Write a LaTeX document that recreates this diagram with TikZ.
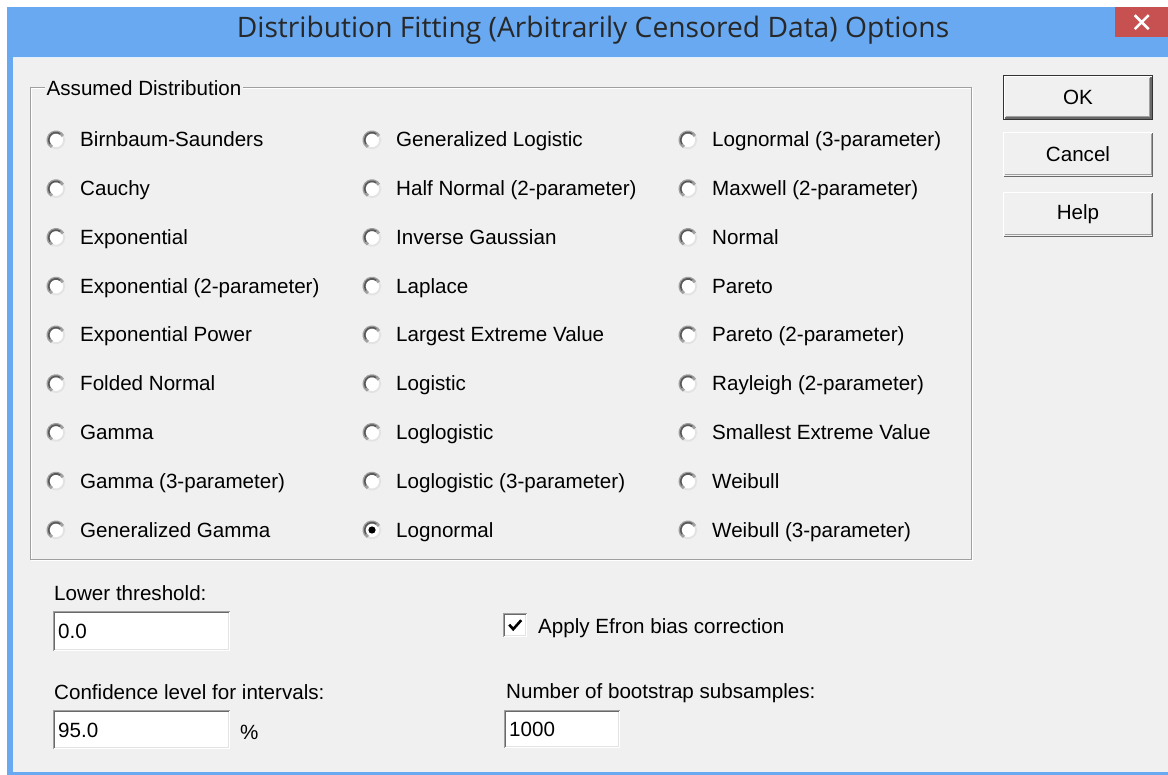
\documentclass[tikz,border=0pt]{standalone}
\usepackage{fontspec}
\setmainfont{Liberation Sans}
\newfontfamily\titlefont{Open Sans}
\definecolor{titleblue}{RGB}{104,169,241}
\definecolor{bodygray}{RGB}{240,240,240}
\definecolor{closered}{RGB}{199,80,80}
\definecolor{edgedark}{RGB}{105,105,105}
\definecolor{edgegray}{RGB}{160,160,160}
\definecolor{edgelight}{RGB}{227,227,227}
\definecolor{titletext}{RGB}{40,40,40}
\newcommand{\radiobtn}[5]{%
  \node[radiocirc] (#1) at (#2,#3) {};
  \draw[edgelight,line width=2pt] ([shift={(240:8.3pt)}]#1.center) arc[start angle=240,end angle=390,radius=8.3pt];
  \draw[edgegray,line width=3pt] ([shift={(30:8pt)}]#1.center) arc[start angle=30,end angle=240,radius=8pt];
  \draw[black!65,line width=1.6pt] ([shift={(55:7.4pt)}]#1.center) arc[start angle=55,end angle=215,radius=7.4pt];
  \ifnum#5=1 \fill[black] (#1.center) circle[radius=3.6pt];\fi
  \node[lbl] (#1t) at (#2+24,#3+7) {#4};
}
\begin{document}
\begin{tikzpicture}[x=1pt,y=-1pt,
  lbl/.style={anchor=base west,inner sep=0pt,font=\fontsize{20.6}{24}\selectfont,text=black},
  radiocirc/.style={circle,fill=white,minimum size=18pt,inner sep=0pt},
  btn/.style={rectangle,fill=bodygray,inner sep=0pt,font=\fontsize{20.6}{24}\selectfont,text=black},
  field/.style={rectangle,fill=white,inner sep=0pt,anchor=north west},
  fieldtext/.style={anchor=base west,inner sep=0pt,font=\fontsize{20.6}{24}\selectfont,text=black}]
\useasboundingbox (0,0) rectangle (1168,775);
\fill[white] (0,0) rectangle (1168,775);
% window
\fill[titleblue] (7,7) rectangle (1168,775);
\fill[bodygray] (13,57) rectangle (1168,772);
\draw[white!80!titleblue,line width=0.8pt] (13,57.4) -- (1168,57.4);
\node[font=\titlefont\fontsize{28.2}{32}\selectfont,text=titletext,inner sep=0pt,anchor=base] (title) at (593,38) {Distribution Fitting (Arbitrarily Censored Data) Options};
\node[rectangle,fill=closered,minimum width=53pt,minimum height=30pt,inner sep=0pt,anchor=north west] (close) at (1115,7) {};
\draw[white,line width=2.6pt] ([shift={(-7pt,-7pt)}]close.center) -- ([shift={(7pt,7pt)}]close.center)
  ([shift={(-7pt,7pt)}]close.center) -- ([shift={(7pt,-7pt)}]close.center);
% group box
\draw[white,line width=1pt] (31,89) rectangle (972,560);
\draw[edgegray,line width=1pt] (30,88) rectangle (971,559);
\node[fill=bodygray,inner sep=1.5pt,anchor=base west,font=\fontsize{20.6}{24}\selectfont] (grp) at (45,96) {Assumed Distribution};
% radio buttons column 1
\radiobtn{a1}{56}{140}{Birnbaum-Saunders}{0}
\radiobtn{a2}{56}{188.75}{Cauchy}{0}
\radiobtn{a3}{56}{237.5}{Exponential}{0}
\radiobtn{a4}{56}{286.25}{Exponential (2-parameter)}{0}
\radiobtn{a5}{56}{335}{Exponential Power}{0}
\radiobtn{a6}{56}{383.75}{Folded Normal}{0}
\radiobtn{a7}{56}{432.5}{Gamma}{0}
\radiobtn{a8}{56}{481.25}{Gamma (3-parameter)}{0}
\radiobtn{a9}{56}{530}{Generalized Gamma}{0}
% column 2
\radiobtn{b1}{372}{140}{Generalized Logistic}{0}
\radiobtn{b2}{372}{188.75}{Half Normal (2-parameter)}{0}
\radiobtn{b3}{372}{237.5}{Inverse Gaussian}{0}
\radiobtn{b4}{372}{286.25}{Laplace}{0}
\radiobtn{b5}{372}{335}{Largest Extreme Value}{0}
\radiobtn{b6}{372}{383.75}{Logistic}{0}
\radiobtn{b7}{372}{432.5}{Loglogistic}{0}
\radiobtn{b8}{372}{481.25}{Loglogistic (3-parameter)}{0}
\radiobtn{b9}{372}{530}{Lognormal}{1}
% column 3
\radiobtn{c1}{688}{140}{Lognormal (3-parameter)}{0}
\radiobtn{c2}{688}{188.75}{Maxwell (2-parameter)}{0}
\radiobtn{c3}{688}{237.5}{Normal}{0}
\radiobtn{c4}{688}{286.25}{Pareto}{0}
\radiobtn{c5}{688}{335}{Pareto (2-parameter)}{0}
\radiobtn{c6}{688}{383.75}{Rayleigh (2-parameter)}{0}
\radiobtn{c7}{688}{432.5}{Smallest Extreme Value}{0}
\radiobtn{c8}{688}{481.25}{Weibull}{0}
\radiobtn{c9}{688}{530}{Weibull (3-parameter)}{0}
% buttons
\node[btn,minimum width=150pt,minimum height=45pt] (ok) at (1078,97.5) {OK};
\node[btn,minimum width=150pt,minimum height=45pt] (cancel) at (1078,154.5) {Cancel};
\node[btn,minimum width=150pt,minimum height=45pt] (help) at (1078,214.5) {Help};
\draw[black!80,line width=1pt] ([shift={(0.5pt,0.5pt)}]ok.south west) rectangle ([shift={(-0.5pt,-0.5pt)}]ok.north east);
\draw[white,line width=1pt] ([shift={(1.5pt,1.5pt)}]ok.south west) |- ([shift={(-1.5pt,-1.5pt)}]ok.north east);
\draw[edgedark,line width=2pt] ([shift={(2pt,2pt)}]ok.south west) -| ([shift={(-2pt,-2pt)}]ok.north east);
\draw[edgegray,line width=1pt] ([shift={(3.5pt,3.5pt)}]ok.south west) -| ([shift={(-3.5pt,-3.5pt)}]ok.north east);
\foreach \b in {cancel,help}{
  \draw[white,line width=1pt] ([shift={(0.5pt,0.5pt)}]\b.south west) |- ([shift={(-0.5pt,-0.5pt)}]\b.north east);
  \draw[edgedark,line width=1.5pt] ([shift={(0.75pt,0.75pt)}]\b.south west) -| ([shift={(-0.75pt,-0.75pt)}]\b.north east);
  \draw[edgegray,line width=1pt] ([shift={(2pt,2.2pt)}]\b.south west) -| ([shift={(-2.2pt,-2pt)}]\b.north east);
}
% lower fields
\node[lbl] (lowlbl) at (54,600) {Lower threshold:};
\node[field,minimum width=177pt,minimum height=40pt] (lowfld) at (53,611) {};
\node[fieldtext] (lowval) at (58,638) {0.0};
\node[lbl] (conflbl) at (54,699) {Confidence level for intervals:};
\node[field,minimum width=177pt,minimum height=39pt] (conffld) at (53,710) {};
\node[fieldtext] (confval) at (58,737) {95.0};
\node[lbl] (pct) at (240,739) {\%};
\node[field,minimum width=116pt,minimum height=38pt] (nfld) at (504,710) {};
\node[fieldtext] (nval) at (509,736) {1000};
\node[lbl] (nlbl) at (506,698) {Number of bootstrap subsamples:};
\node[field,minimum width=24pt,minimum height=24pt] (chk) at (503,613) {};
\node[lbl] (chklbl) at (538,633) {Apply Efron bias correction};
\foreach \f in {lowfld,conffld,nfld,chk}{
  \draw[edgegray,line width=1pt] ([shift={(0.5pt,0.5pt)}]\f.south west) |- ([shift={(-0.5pt,-0.5pt)}]\f.north east);
  \draw[edgedark,line width=1pt] ([shift={(1.5pt,1.5pt)}]\f.south west) |- ([shift={(-1.5pt,-1.5pt)}]\f.north east);
  \draw[edgelight,line width=1pt] ([shift={(1.5pt,1.5pt)}]\f.south west) -| ([shift={(-1.5pt,-1.5pt)}]\f.north east);
}
\draw[black,line width=2.6pt,line join=miter] ([shift={(-6pt,0.5pt)}]chk.center) -- ([shift={(-2pt,-4pt)}]chk.center) -- ([shift={(6pt,5pt)}]chk.center);
\end{tikzpicture}
\end{document}
